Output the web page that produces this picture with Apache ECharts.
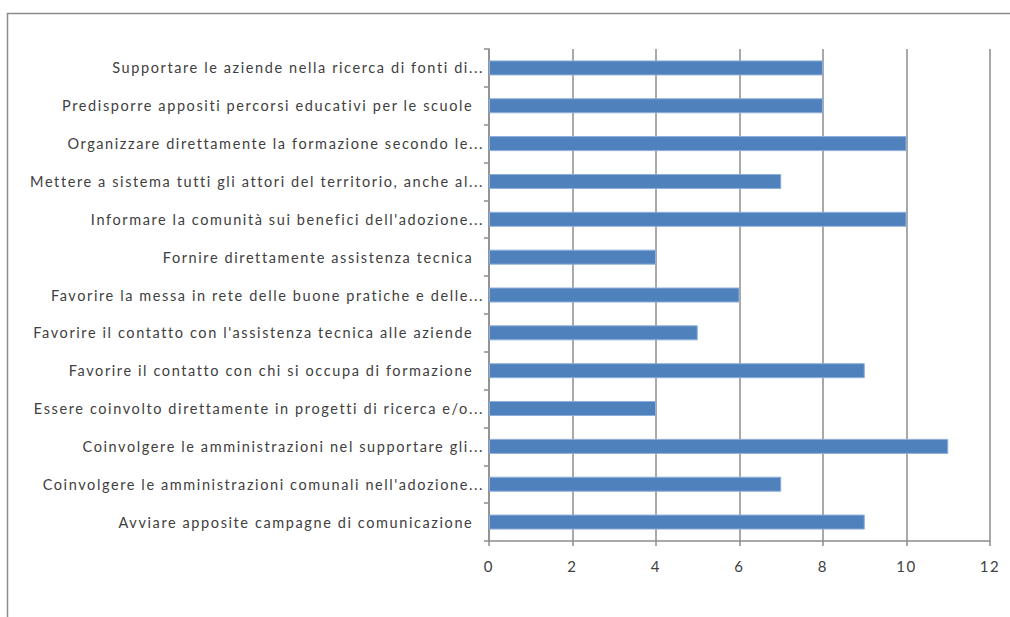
<!DOCTYPE html>
<html>
<head>
<meta charset="utf-8">
<script src="https://cdn.jsdelivr.net/npm/echarts@6/dist/echarts.min.js"></script>
<style>
html,body{margin:0;padding:0;background:#fff;}
#chart{width:1010px;height:617px;}
#chart svg text{letter-spacing:1.6px;}
</style>
</head>
<body>
<div id="chart"></div>
<script>
const categories = [
  "Supportare le aziende nella ricerca di fonti di...",
  "Predisporre appositi percorsi educativi per le scuole  ",
  "Organizzare direttamente la formazione secondo le...",
  "Mettere a sistema tutti gli attori del territorio, anche al...",
  "Informare la comunità sui benefici dell'adozione...",
  "Fornire direttamente assistenza tecnica  ",
  "Favorire la messa in rete delle buone pratiche e delle...",
  "Favorire il contatto con l'assistenza tecnica alle aziende  ",
  "Favorire il contatto con chi si occupa di formazione  ",
  "Essere coinvolto direttamente in progetti di ricerca e/o...",
  "Coinvolgere le amministrazioni nel supportare gli...",
  "Coinvolgere le amministrazioni comunali nell'adozione...",
  "Avviare apposite campagne di comunicazione  "
];
const values = [8, 8, 10, 7, 10, 4, 6, 5, 9, 4, 11, 7, 9];
const axisMin = 0, axisMax = 12, axisStep = 2;

const chart = echarts.init(document.getElementById('chart'), null, {renderer: 'svg'});
const font = "Lato, sans-serif";
chart.setOption({
  animation: false,
  backgroundColor: '#ffffff',
  grid: {left: 489, top: 49, right: 20, bottom: 76, containLabel: false},
  xAxis: {
    type: 'value', min: axisMin, max: axisMax, interval: axisStep,
    axisLine: {show: true, lineStyle: {color: '#8c8c8c', width: 1.5}},
    axisTick: {show: true, length: 5, lineStyle: {color: '#8c8c8c', width: 1.5}},
    splitLine: {show: true, lineStyle: {color: '#8c8c8c', width: 1.5}},
    axisLabel: {color: '#404040', fontFamily: font, fontSize: 15, margin: 17}
  },
  yAxis: {
    type: 'category', data: categories, inverse: true,
    axisLine: {show: true, lineStyle: {color: '#8c8c8c', width: 1.5}},
    axisTick: {show: true, length: 5, inside: false, lineStyle: {color: '#8c8c8c', width: 1.5}},
    axisLabel: {color: '#404040', fontFamily: font, fontSize: 14.5, margin: 5, interval: 0}
  },
  series: [{
    type: 'bar', data: values, barWidth: 15,
    itemStyle: {color: '#4F81BD', borderColor: '#8EAEDB', borderWidth: 1}
  }],
  graphic: [{
    type: 'rect', silent: true,
    shape: {x: 7.5, y: 13.5, width: 1100, height: 700},
    style: {fill: 'none', stroke: '#8c8c8c', lineWidth: 1.5}
  }]
});
</script>
</body>
</html>
